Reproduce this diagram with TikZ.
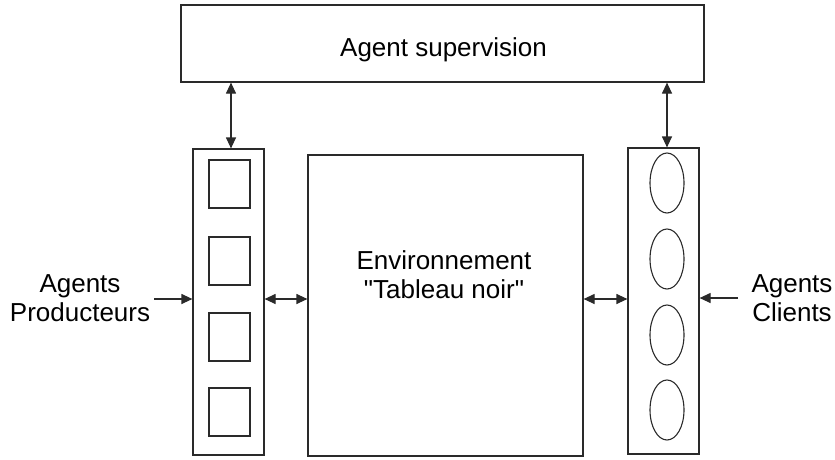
\documentclass[tikz,border=0pt]{standalone}
\usepackage{fontspec}
\setmainfont{Liberation Sans}[Ligatures=TeXOff]
\usetikzlibrary{arrows.meta,shapes.geometric}
\definecolor{ln}{HTML}{2A2A2A}
\begin{document}
\begin{tikzpicture}[x=1pt,y=-1pt,
  box/.style={draw=ln,line width=1.2pt,rectangle,inner sep=0pt},
  cell/.style={draw=ln,line width=1.1pt,rectangle,minimum width=41pt,minimum height=48pt,inner sep=0pt},
  oval/.style={draw=ln,line width=1.1pt,ellipse,minimum width=34pt,minimum height=60pt,inner sep=0pt},
  lbl/.style={font=\fontsize{26}{29}\selectfont,align=center,inner sep=0pt},
  dbl/.style={line width=1.2pt,draw=ln,{Triangle[length=11pt,width=10pt]}-{Triangle[length=11pt,width=10pt]}},
  sgl/.style={line width=1.2pt,draw=ln,-{Triangle[length=11pt,width=10pt]}}]
\useasboundingbox (0,0) rectangle (835,459);
% boxes
\node[box,minimum width=523pt,minimum height=77pt] (sup) at (442.5,43.5) {};
\node[lbl,anchor=base] (suptxt) at (443.5,56) {Agent supervision};
\node[box,minimum width=71pt,minimum height=306pt] (lcol) at (228.5,302) {};
\node[box,minimum width=71pt,minimum height=306pt] (rcol) at (663.5,301) {};
\node[box,minimum width=275pt,minimum height=301pt] (env) at (445.5,305.5) {};
\node[lbl] (envtxt) at (444,275) {Environnement\\"Tableau noir"};
% cells
\node[cell] (s1) at (229.5,184) {};
\node[cell] (s2) at (229.5,261) {};
\node[cell] (s3) at (229.5,337) {};
\node[cell] (s4) at (229.5,412) {};
\node[oval] (e1) at (667,183) {};
\node[oval] (e2) at (667,259) {};
\node[oval] (e3) at (667,335) {};
\node[oval] (e4) at (667,410) {};
% outer labels
\node[lbl] (prod) at (80,298) {Agents\\Producteurs};
\node[lbl] (cli) at (792,298) {Agents\\Clients};
% connectors
\coordinate (ay) at (0,299);
\coordinate (lx) at (231,0);
\coordinate (rx) at (667,0);
\coordinate (pe) at (154,299);
\coordinate (ce) at (738,298);
\draw[dbl] (lx |- sup.south) -- (lx |- lcol.north);
\draw[dbl] (rx |- sup.south) -- (rx |- rcol.north);
\draw[dbl] (lcol.east |- ay) -- (env.west |- ay);
\draw[dbl] (env.east |- ay) -- (rcol.west |- ay);
\draw[sgl] (pe) -- (lcol.west |- pe);
\draw[sgl] (ce) -- (rcol.east |- ce);
\end{tikzpicture}
\end{document}
